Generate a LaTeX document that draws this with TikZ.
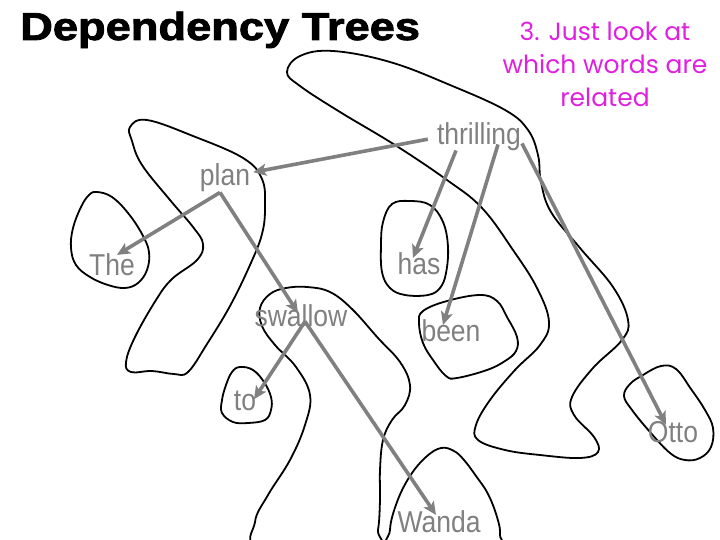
\documentclass[tikz,border=0pt]{standalone}
\usepackage{fontspec}
\setmainfont{Liberation Sans}
\newfontfamily\titlefont[FakeBold=2]{Liberation Sans Bold}
\newfontfamily\notefont{Poppins}
\usetikzlibrary{arrows.meta,calc}
\definecolor{wordgray}{RGB}{128,128,128}
\definecolor{notemag}{RGB}{224,32,224}
\tikzset{
  blob/.style={draw=black,line width=1.8pt,smooth cycle,tension=0.65},
  word/.style={anchor=base,inner sep=0pt,text=wordgray,font=\fontsize{26.5}{26.5}\selectfont},
  dep/.style={draw=wordgray,line width=3.6pt,-{Stealth[length=13pt,width=12pt,inset=3pt]}},
}
\newcommand{\tallword}[1]{\scalebox{1}[1.14]{#1}}
\begin{document}
\begin{tikzpicture}[x=1pt,y=-1pt]
\useasboundingbox (0,0) rectangle (720,540);
\begin{scope}
\clip (0,0) rectangle (720,540);
% blobs
\draw[blob] plot coordinates {(287,72) (300,56) (333,51) (390,62) (450,85) (505,110) (528,130) (538,155) (541,182) (551,212) (580,248) (613,287) (628,320) (622,340) (593,368) (572,397) (574,415) (594,437) (598,452) (580,458) (540,455) (505,450) (478,440) (476,425) (490,400) (515,370) (540,345) (549,322) (537,288) (513,250) (482,208) (447,180) (395,145) (340,112) (300,86)};
\draw[blob] plot coordinates {(130,127) (147,120) (193,136) (243,158) (262,179) (265,207) (262,234) (250,265) (230,306) (207,344) (188,372) (174,374) (152,371) (131,372) (126,362) (135,337) (156,300) (172,279) (197,260) (203,244) (193,227) (170,200) (142,165) (132,141)};
\draw[blob] plot coordinates {(97,192) (112,197) (128,213) (142,234) (149,252) (147,270) (138,283) (125,288) (108,285) (90,277) (76,265) (71,248) (73,228) (81,207) (89,195)};
\draw[blob] plot coordinates {(392,204) (410,201) (430,205) (443,222) (448,247) (446,273) (440,288) (428,295) (405,295) (390,288) (382,272) (381,245) (383,222)};
\draw[blob] plot coordinates {(423,311) (447,301) (480,295) (497,301) (507,317) (517,337) (516,351) (505,361) (487,370) (457,378) (446,376) (433,360) (423,343) (419,323)};
\draw[blob] plot coordinates {(643,375) (661,366) (676,369) (691,389) (705,410) (713,428) (711,447) (700,458) (685,460) (670,453) (650,432) (632,410) (624,396) (630,384)};
\draw[blob] plot coordinates {(240,367) (253,370) (264,382) (271,397) (271,410) (265,420) (248,423) (233,422) (222,413) (222,400) (226,385) (232,372)};
\draw[blob] plot coordinates {(307,287) (330,292) (352,309) (378,338) (400,362) (410,385) (405,405) (392,420) (383,440) (380,470) (380,500) (378,530) (372,548) (262,548) (255,522) (268,495) (290,460) (305,425) (310,395) (296,367) (275,345) (262,326) (260,308) (270,294) (286,288)};
\draw[blob] plot coordinates {(441,448) (454,451) (464,460) (476,476) (488,494) (497,517) (500,535) (494,550) (395,550) (390,530) (397,502) (410,476) (426,457)};
\end{scope}
% title and note
\node[anchor=base west,inner sep=0pt] (title) at (20,40) {\scalebox{1.16}[1]{\fontsize{39}{39}\titlefont Dependency Trees}};
\node[anchor=base,inner sep=0pt,text=notemag,font=\fontsize{25}{33}\notefont,align=center] (note) at (605,107) {3. Just look at\\which words are\\related};
% words
\node[word] (thrilling) at (479,145) {\tallword{thrilling}};
\node[word] (plan) at (225,186) {\tallword{plan}};
\node[word] (the) at (112,275) {\tallword{The}};
\node[word] (has) at (419,274) {\tallword{has}};
\node[word] (swallow) at (301,326) {\tallword{swallow}};
\node[word] (been) at (451,341) {\tallword{been}};
\node[word] (to) at (245,410) {\tallword{to}};
\node[word] (otto) at (673,442) {\tallword{Otto}};
\node[word] (wanda) at (439,532) {\tallword{Wanda}};
% dependencies
\draw[dep] ([xshift=-9pt,yshift=-2pt]thrilling.west) -- ([xshift=3pt,yshift=6pt]plan.east);
\draw[dep] ([xshift=-23pt,yshift=1pt]thrilling.south) -- ([xshift=-6pt,yshift=-6pt]has.north);
\draw[dep] ([xshift=19pt,yshift=7pt]thrilling.south) -- ([xshift=-8pt,yshift=-6pt]been.north);
\draw[dep] ([xshift=43pt,yshift=8pt]thrilling.south) -- ([xshift=-7pt,yshift=-4pt]otto.north);
\draw[dep] ([xshift=-5pt,yshift=0pt]plan.south) -- ([xshift=5pt,yshift=-2pt]the.north);
\draw[dep] ([xshift=-5pt,yshift=0pt]plan.south) -- ([xshift=-3pt,yshift=-9pt]swallow.north);
\draw[dep] ([xshift=4pt,yshift=5pt]swallow.south) -- ([xshift=9pt,yshift=-9pt]to.north);
\draw[dep] ([xshift=4pt,yshift=5pt]swallow.south) -- ([xshift=-3pt,yshift=-5pt]wanda.north);
\end{tikzpicture}
\end{document}
